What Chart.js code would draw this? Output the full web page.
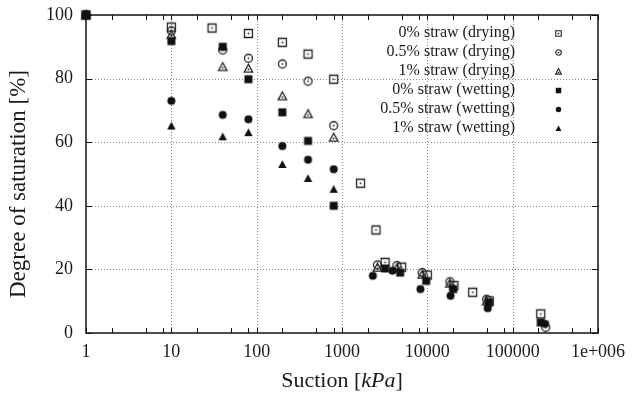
<!DOCTYPE html>
<html>
<head>
<meta charset="utf-8">
<script src="https://cdn.jsdelivr.net/npm/chart.js@4.4.1/dist/chart.umd.min.js"></script>
<style>
  html, body { margin: 0; padding: 0; background: #fff; }
  #wrap { width: 644px; height: 398px; }
</style>
</head>
<body>
<div id="wrap"><canvas id="c" width="644" height="398"></canvas></div>
<script>
// Soil-water retention data: suction (kPa) vs degree of saturation (%)
const seriesLabels = [
  '0% straw (drying)', '0.5% straw (drying)', '1% straw (drying)',
  '0% straw (wetting)', '0.5% straw (wetting)', '1% straw (wetting)'
];

const suctionDry0 = [1, 10, 30, 80, 200, 400, 800, 1650, 2500, 3200, 5000, 10000, 20500, 34000, 53000, 213000];
const satDry0     = [100, 96.2, 95.9, 94.2, 91.4, 87.7, 79.8, 47.1, 32.4, 22.2, 20.7, 18.2, 14.9, 12.8, 10.1, 6.0];

const suctionDry05 = [1, 10, 40, 80, 200, 400, 800, 2600, 4400, 8700, 18400, 49500, 244000];
const satDry05     = [100, 95.0, 89.0, 86.4, 84.6, 79.2, 65.2, 21.4, 21.2, 19.0, 16.1, 10.6, 1.8];

const suctionDry1 = [1, 10, 40, 80, 200, 400, 800, 2600, 4400, 8700, 18400, 49500];
const satDry1     = [100, 93.8, 83.7, 83.2, 74.5, 68.9, 61.5, 20.6, 20.4, 18.4, 15.6, 10.0];

const suctionWet0 = [1, 10, 40, 80, 200, 400, 800, 3200, 4800, 9700, 20100, 53000, 213000];
const satWet0     = [100, 91.8, 90.0, 79.8, 69.4, 60.4, 40.0, 20.3, 19.0, 16.4, 13.8, 9.6, 3.3];

const suctionWet05 = [1, 10, 40, 80, 200, 400, 800, 2300, 3900, 8300, 18700, 51000, 240000];
const satWet05     = [100, 73.0, 68.6, 67.2, 58.8, 54.5, 51.5, 18.0, 19.6, 13.8, 11.7, 7.8, 2.9];

const suctionWet1 = [1, 10, 40, 80, 200, 400, 800];
const satWet1     = [100, 65.1, 61.7, 63.0, 53.0, 48.6, 45.2];

const xMajorTicks = [1, 10, 100, 1000, 10000, 100000, 1000000];
const xTickLabels = ['1', '10', '100', '1000', '10000', '100000', '1e+006'];
const xMinorFactors = [2, 5, 8];
const yTicks = [0, 20, 40, 60, 80, 100];

const SERIF = '"Liberation Serif", "DejaVu Serif", serif';
const OPEN_COLOR = '#222';
const FILL_COLOR = '#111';

// Build a marker sprite: square / circle / triangle, open (with centre dot) or filled
function makeMarker(shape, filled, size, lw) {
  const pad = 2;
  const dim = Math.ceil(size) + pad * 2;
  const cv = document.createElement('canvas');
  cv.width = dim; cv.height = dim;
  const g = cv.getContext('2d');
  const c = dim / 2;
  const h = size / 2;
  g.beginPath();
  if (shape === 'square') {
    g.rect(c - h + 0.5, c - h + 0.5, size - 1, size - 1);
  } else if (shape === 'circle') {
    g.arc(c, c, h - 0.5, 0, Math.PI * 2);
  } else {
    g.moveTo(c, c - h + 0.3);
    g.lineTo(c + h - 0.3, c + h * 0.8);
    g.lineTo(c - h + 0.3, c + h * 0.8);
    g.closePath();
  }
  if (filled) {
    g.fillStyle = FILL_COLOR;
    g.fill();
  } else {
    g.lineWidth = lw;
    g.strokeStyle = OPEN_COLOR;
    g.stroke();
    g.fillStyle = OPEN_COLOR;
    g.fillRect(c - 0.8, c - 0.8 + (shape === 'triangle' ? 1 : 0), 1.6, 1.6);
  }
  return cv;
}

const shapes = [
  ['square', false], ['circle', false], ['triangle', false],
  ['square', true], ['circle', true], ['triangle', true]
];
const plotMarkers = shapes.map(([s, f]) => makeMarker(s, f, 9, 1.3));
const legendMarkers = shapes.map(([s, f]) => makeMarker(s, f, 6.5, 1.1));

const xs = [suctionDry0, suctionDry05, suctionDry1, suctionWet0, suctionWet05, suctionWet1];
const ys = [satDry0, satDry05, satDry1, satWet0, satWet05, satWet1];

const datasets = seriesLabels.map((label, i) => ({
  label,
  data: xs[i].map((x, k) => ({ x, y: ys[i][k] })),
  showLine: false,
  pointStyle: plotMarkers[i],
  pointRadius: 5,
  pointHoverRadius: 5,
  clip: false,
  order: 6 - i
}));

// Frame, dotted grid and inward tick marks
const framePlugin = {
  id: 'frame',
  beforeDatasetsDraw(chart) {
    const { ctx, chartArea: a, scales: { x, y } } = chart;
    ctx.save();
    ctx.strokeStyle = '#8a8a8a';
    ctx.lineWidth = 1;
    ctx.setLineDash([1, 2]);
    xMajorTicks.slice(1, -1).forEach(v => {
      const px = Math.round(x.getPixelForValue(v)) + 0.5;
      ctx.beginPath(); ctx.moveTo(px, a.top); ctx.lineTo(px, a.bottom); ctx.stroke();
    });
    yTicks.slice(1, -1).forEach(v => {
      const py = Math.round(y.getPixelForValue(v)) + 0.5;
      ctx.beginPath(); ctx.moveTo(a.left, py); ctx.lineTo(a.right, py); ctx.stroke();
    });
    ctx.setLineDash([]);
    ctx.strokeStyle = '#111';
    ctx.lineWidth = 1;
    const tick = (x1, y1, x2, y2) => { ctx.beginPath(); ctx.moveTo(x1, y1); ctx.lineTo(x2, y2); ctx.stroke(); };
    xMajorTicks.forEach((v, i) => {
      const vals = [v];
      if (i < xMajorTicks.length - 1) xMinorFactors.forEach(f => vals.push(v * f));
      vals.forEach(t => {
        const px = Math.round(x.getPixelForValue(t)) + 0.5;
        tick(px, a.bottom, px, a.bottom - 5);
        tick(px, a.top, px, a.top + 5);
      });
    });
    yTicks.forEach(v => {
      const py = Math.round(y.getPixelForValue(v)) + 0.5;
      tick(a.left, py, a.left + 6, py);
      tick(a.right, py, a.right - 6, py);
    });
    ctx.lineWidth = 1.5;
    ctx.strokeRect(a.left, a.top, a.right - a.left, a.bottom - a.top);
    ctx.restore();
  }
};

// Axis titles and the key in the upper right
const textPlugin = {
  id: 'texts',
  afterDraw(chart) {
    const { ctx, chartArea: a } = chart;
    ctx.save();
    ctx.fillStyle = '#1a1a1a';
    ctx.textBaseline = 'middle';

    // x title with italic unit
    const parts = [['Suction [', 'normal'], ['kPa', 'italic'], [']', 'normal']];
    const fs = 22;
    let total = 0;
    parts.forEach(([t, st]) => { ctx.font = `${st} ${fs}px ${SERIF}`; total += ctx.measureText(t).width; });
    let cx = (a.left + a.right) / 2 - total / 2;
    ctx.textAlign = 'left';
    parts.forEach(([t, st]) => {
      ctx.font = `${st} ${fs}px ${SERIF}`;
      ctx.fillText(t, cx, 381);
      cx += ctx.measureText(t).width;
    });

    // y title
    ctx.save();
    ctx.translate(19, 184);
    ctx.rotate(-Math.PI / 2);
    ctx.textAlign = 'center';
    ctx.font = `normal ${fs + 1}px ${SERIF}`;
    ctx.fillText('Degree of saturation [%]', 0, 0);
    ctx.restore();

    // key
    ctx.font = `normal 16px ${SERIF}`;
    ctx.textAlign = 'right';
    seriesLabels.forEach((lbl, i) => {
      const ly = 33 + i * 19;
      ctx.fillText(lbl, 515, ly);
      const m = legendMarkers[i];
      ctx.drawImage(m, Math.round(558 - m.width / 2), Math.round(ly - m.height / 2));
    });
    ctx.restore();
  }
};

new Chart(document.getElementById('c'), {
  type: 'scatter',
  data: { datasets },
  options: {
    responsive: false,
    animation: false,
    events: [],
    layout: { padding: { left: 0, top: 15, right: 46, bottom: 0 } },
    plugins: { legend: { display: false }, tooltip: { enabled: false } },
    scales: {
      x: {
        type: 'logarithmic',
        min: 1, max: 1000000,
        grid: { display: false },
        border: { display: false },
        afterBuildTicks(scale) { scale.ticks = xMajorTicks.map(v => ({ value: v })); },
        afterFit(scale) { scale.height = 65; scale.paddingLeft = 0; scale.paddingRight = 0; },
        ticks: {
          autoSkip: false, maxRotation: 0, padding: 0,
          color: '#1a1a1a',
          font: { family: SERIF, size: 18 },
          callback(value) { const i = xMajorTicks.indexOf(value); return i >= 0 ? xTickLabels[i] : ''; }
        }
      },
      y: {
        type: 'linear',
        min: 0, max: 100,
        grid: { display: false },
        border: { display: false },
        afterBuildTicks(scale) { scale.ticks = yTicks.map(v => ({ value: v })); },
        afterFit(scale) { scale.width = 86; scale.paddingTop = 0; scale.paddingBottom = 0; },
        ticks: {
          padding: 5,
          color: '#1a1a1a',
          font: { family: SERIF, size: 18 }
        }
      }
    }
  },
  plugins: [framePlugin, textPlugin]
});
</script>
</body>
</html>
